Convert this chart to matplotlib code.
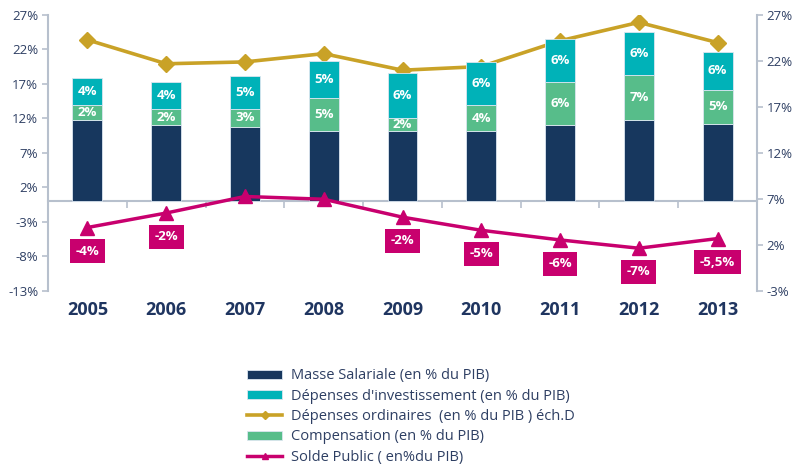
import matplotlib
matplotlib.use("Agg")
import matplotlib.pyplot as plt
import numpy as np

years = ["2005", "2006", "2007", "2008", "2009", "2010", "2011", "2012", "2013"]
masse_salariale = [11.8, 11.0, 10.8, 10.2, 10.2, 10.2, 11.0, 11.8, 11.2]
compensation = [2.1, 2.4, 2.6, 4.7, 1.9, 3.7, 6.3, 6.5, 5.0]
investissement = [3.9, 3.9, 4.7, 5.5, 6.5, 6.3, 6.2, 6.3, 5.5]
compensation_labels = ["2%", "2%", "3%", "5%", "2%", "4%", "6%", "7%", "5%"]
investissement_labels = ["4%", "4%", "5%", "5%", "6%", "6%", "6%", "6%", "6%"]
depenses_ordinaires = [24.3, 21.7, 21.9, 22.8, 21.0, 21.4, 24.2, 26.2, 24.0]
solde_public = [-3.8, -1.7, 0.7, 0.3, -2.3, -4.2, -5.6, -6.8, -5.4]
solde_labels = ["-4%", "-2%", "", "", "-2%", "-5%", "-6%", "-7%", "-5,5%"]
left_ticks = [-13, -8, -3, 2, 7, 12, 17, 22, 27]
right_ticks = [-3, 2, 7, 12, 17, 22, 27]

NAVY = "#17375e"
TEAL = "#00b2b8"
GREEN = "#57bd8a"
GOLD = "#c9a227"
MAGENTA = "#c8006e"
AXIS = "#b7c0cd"
TXT = "#2e3f63"

plt.rcParams["font.family"] = ["Open Sans", "DejaVu Sans"]

fig = plt.figure(figsize=(7.92, 4.66), dpi=100)
ax = fig.add_axes([48 / 792, 1 - 291 / 466, (757 - 48) / 792, (291 - 15) / 466])
ax2 = ax.twinx()
ax.set_zorder(ax2.get_zorder() + 1)
ax.patch.set_visible(False)

x = np.arange(len(years))
w = 0.38
ms = np.array(masse_salariale)
cp = np.array(compensation)
inv = np.array(investissement)
b1 = ax.bar(x, ms, w, color=NAVY, edgecolor="#dce6f0", linewidth=0.6, label="Masse Salariale (en % du PIB)", zorder=2)
b3 = ax.bar(x, cp, w, bottom=ms, color=GREEN, edgecolor="#dce6f0", linewidth=0.6, label="Compensation (en % du PIB)", zorder=2)
b2 = ax.bar(x, inv, w, bottom=ms + cp, color=TEAL, edgecolor="#dce6f0", linewidth=0.6, label="Dépenses d'investissement (en % du PIB)", zorder=2)

for i in range(len(years)):
    ax.text(x[i], ms[i] + cp[i] / 2, compensation_labels[i], ha="center", va="center",
            color="white", fontsize=9.5, fontweight="bold", zorder=5)
    ax.text(x[i], ms[i] + cp[i] + inv[i] / 2, investissement_labels[i], ha="center", va="center",
            color="white", fontsize=9.5, fontweight="bold", zorder=5)

l_solde, = ax.plot(x, solde_public, color=MAGENTA, lw=2.5, marker="^", markersize=9.5,
                   label="Solde Public ( en%du PIB)", zorder=4)
for i, lab in enumerate(solde_labels):
    if lab:
        ax.annotate(lab, (x[i], solde_public[i]), xytext=(0, -17), textcoords="offset points",
                    ha="center", va="center", color="white", fontsize=9.5, fontweight="bold",
                    bbox=dict(boxstyle="square,pad=0.42", fc=MAGENTA, ec="none"), zorder=6)

l_dep, = ax2.plot(x, depenses_ordinaires, color=GOLD, lw=2.6, marker="D", markersize=8.5,
                  label="Dépenses ordinaires  (en % du PIB ) éch.D", zorder=3)

ax.set_ylim(-13, 27)
ax.set_yticks(left_ticks)
ax.set_yticklabels([f"{t}%" for t in left_ticks])
ax2.set_ylim(-3, 27)
ax2.set_yticks(right_ticks)
ax2.set_yticklabels([f"{t}%" for t in right_ticks])
ax.set_xlim(-0.5, len(years) - 0.5)

for a in (ax, ax2):
    for s in ("top", "bottom"):
        a.spines[s].set_visible(False)
    a.spines["left"].set_color(AXIS)
    a.spines["right"].set_color(AXIS)
    a.spines["left"].set_linewidth(1.5)
    a.spines["right"].set_linewidth(1.5)
ax.spines["right"].set_visible(False)
ax2.spines["left"].set_visible(False)
ax.tick_params(axis="y", colors=AXIS, labelcolor=TXT, labelsize=9.5, length=4, width=1.2, pad=3)
ax2.tick_params(axis="y", colors=AXIS, labelcolor=TXT, labelsize=9.5, length=4, width=1.2, pad=3)

ax.set_xticks(x)
ax.set_xticklabels(years)
ax.tick_params(axis="x", length=0, labelsize=13, labelcolor="#1f3560", pad=7)
for t in ax.get_xticklabels():
    t.set_fontweight("bold")

zero_pos = (0 - (-13)) / (27 - (-13))
sec = ax.secondary_xaxis(zero_pos)
sec.set_xticks(np.arange(len(years) + 1) - 0.5)
sec.set_xticklabels([])
sec.spines["bottom"].set_color(AXIS)
sec.spines["bottom"].set_linewidth(1.5)
sec.tick_params(axis="x", colors=AXIS, length=5, width=1.2, direction="out")

handles = [b1, b2, l_dep, b3, l_solde]
leg = fig.legend(handles=handles, labels=[h.get_label() for h in handles],
                 loc="upper left", bbox_to_anchor=(240 / 792, 1 - 361 / 466),
                 frameon=False, fontsize=10.5, handlelength=2.4, handleheight=0.6,
                 labelspacing=0.37, handletextpad=0.6, borderpad=0, markerscale=0.5)
for t in leg.get_texts():
    t.set_color(TXT)

fig.savefig("out.png", dpi=100)
